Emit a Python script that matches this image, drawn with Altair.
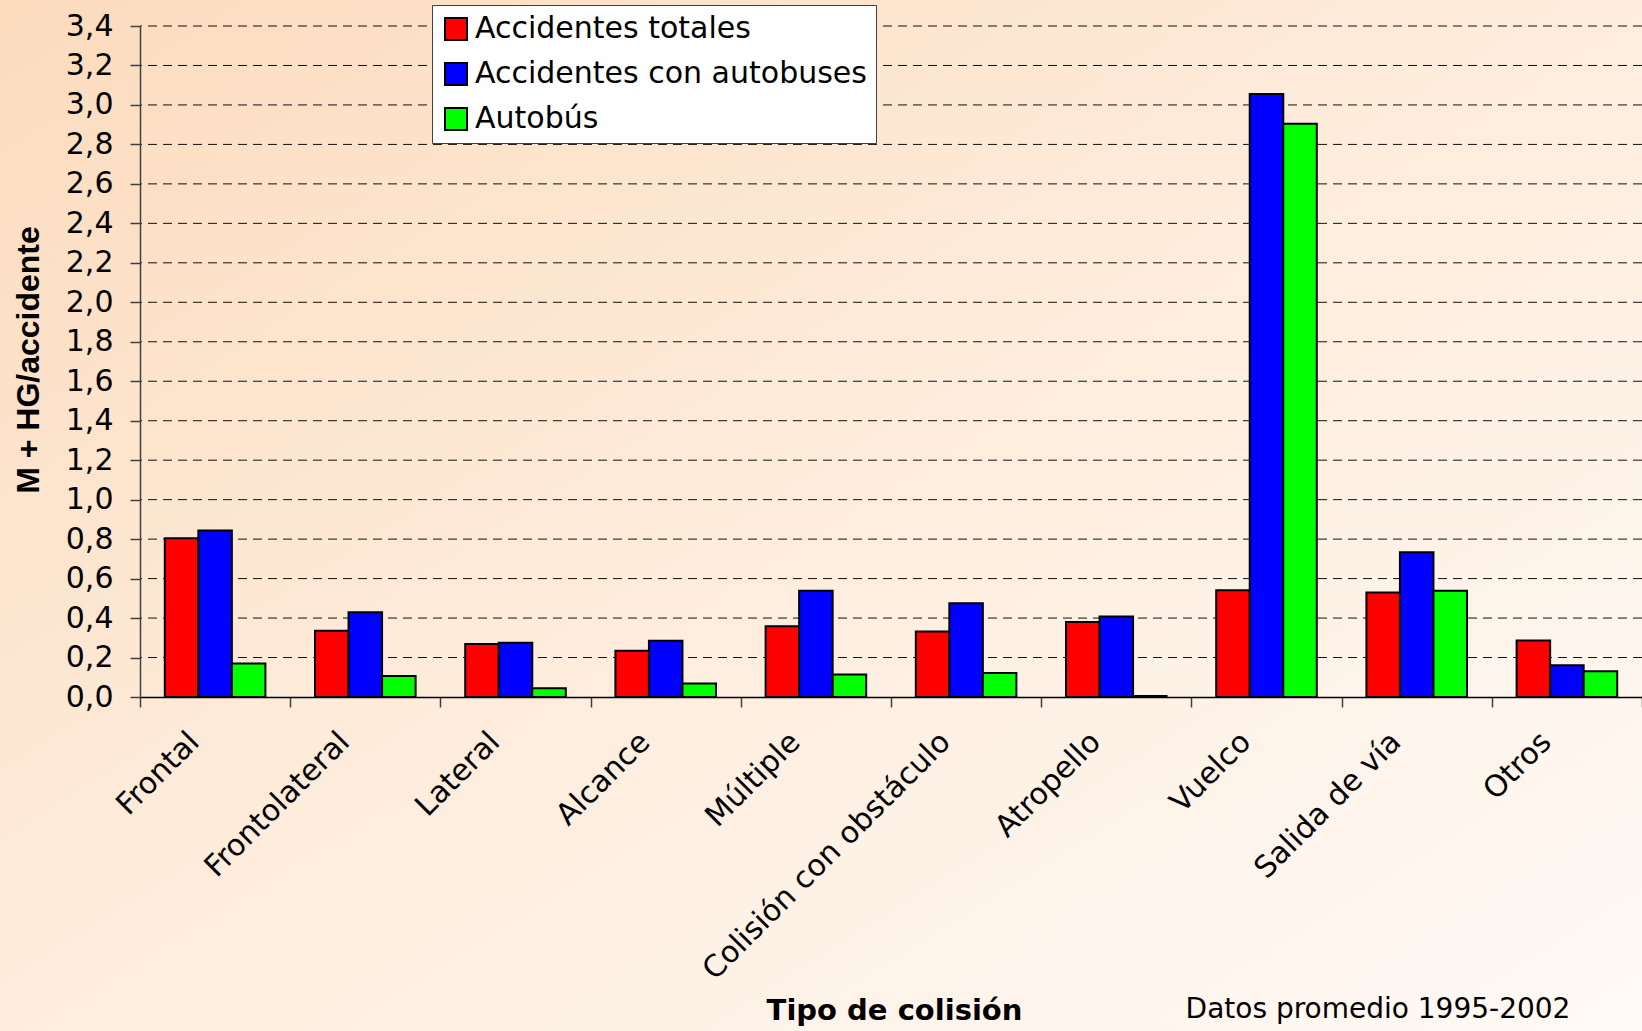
import altair as alt
import pandas as pd

categories = ["Frontal", "Frontolateral", "Lateral", "Alcance", "Múltiple",
              "Colisión con obstáculo", "Atropello", "Vuelco", "Salida de vía", "Otros"]
series_names = ["Accidentes totales", "Accidentes con autobuses", "Autobús"]
series_colors = ["#FF0000", "#0000FF", "#00FF00"]

totales = [0.805, 0.336, 0.268, 0.234, 0.358, 0.332, 0.380, 0.541, 0.530, 0.286]
con_autobuses = [0.844, 0.429, 0.275, 0.285, 0.539, 0.475, 0.408, 3.055, 0.734, 0.161]
autobus = [0.170, 0.107, 0.044, 0.068, 0.114, 0.122, 0.005, 2.905, 0.539, 0.131]

y_ticks = [0.0, 0.2, 0.4, 0.6, 0.8, 1.0, 1.2, 1.4, 1.6, 1.8, 2.0,
           2.2, 2.4, 2.6, 2.8, 3.0, 3.2, 3.4]

y_title = "M + HG/accidente"
x_title = "Tipo de colisión"
note_text = "Datos promedio 1995-2002"

rows = []
for name, vals in zip(series_names, [totales, con_autobuses, autobus]):
    for c, v in zip(categories, vals):
        rows.append({"categoria": c, "serie": name, "value": v})
df = pd.DataFrame(rows)

W, H = 1502, 671
PAD_L, PAD_T = 140, 26
CANVAS_W, CANVAS_H = 1642, 1031

FONT = "DejaVu Sans"

y_scale = alt.Scale(domain=[0, 3.4], nice=False, zero=True)
y_axis = alt.Axis(
    values=y_ticks,
    labelExpr="replace(format(datum.value, '.1f'), '.', ',')",
    grid=False,
    domainColor="#404040", domainWidth=1.5,
    tickColor="#404040", tickWidth=1.5, tickSize=10,
    labelFont=FONT, labelFontSize=30, labelColor="black", labelPadding=17,
    title=y_title, titleFont="Liberation Sans", titleFontSize=32, titleFontWeight="bold",
    titleColor="black", titleAngle=270, titleX=-112, titleY=H / 2 - 2,
    titleAlign="center", titleBaseline="middle",
    zindex=1,
)

x_axis = alt.Axis(
    labelAngle=315, labelAlign="right", labelBaseline="middle",
    labelFont=FONT, labelFontSize=30, labelColor="black",
    labelPadding=30, labelOffset=-21,
    tickBand="extent", tickSize=10, tickColor="#404040", tickWidth=1.5,
    domainColor="black", domainWidth=1.5, grid=False,
    title=x_title, titleFont=FONT, titleFontSize=29, titleFontWeight="bold",
    titleColor="black", titleX=754, titleY=322, titleAlign="center",
    titleBaseline="alphabetic",
    labelLimit=0, zindex=1,
)

gradient = alt.LinearGradient(
    gradient="linear",
    stops=[alt.GradientStop(offset=0, color="#FCDBBD"),
           alt.GradientStop(offset=0.5, color="#FEEDDD"),
           alt.GradientStop(offset=1, color="#FFFAF6")],
    x1=0, y1=0, x2=1, y2=1,
)

bg = alt.Chart(pd.DataFrame({"a": [0]})).mark_rect(fill=gradient, strokeWidth=0).encode(
    x=alt.value(-PAD_L), x2=alt.value(CANVAS_W - PAD_L),
    y=alt.value(-PAD_T), y2=alt.value(CANVAS_H - PAD_T),
)

grid = alt.Chart(pd.DataFrame({"value": y_ticks[1:]})).mark_rule(
    strokeDash=[9, 6], color="#111", strokeWidth=1
).encode(
    y=alt.Y("value:Q", scale=y_scale, axis=y_axis),
)

bars = alt.Chart(df).mark_bar(stroke="black", strokeWidth=2).encode(
    x=alt.X("categoria:N", sort=categories,
            scale=alt.Scale(paddingInner=0, paddingOuter=0),
            axis=x_axis),
    xOffset=alt.XOffset("serie:N", sort=series_names,
                        scale=alt.Scale(paddingInner=0, paddingOuter=0.74)),
    y=alt.Y("value:Q", scale=y_scale, axis=y_axis),
    color=alt.Color("serie:N", sort=series_names,
                    scale=alt.Scale(domain=series_names, range=series_colors),
                    legend=alt.Legend(
                        title=None, orient="none", legendX=292, legendY=-21,
                        fillColor="white", strokeColor="#404040", padding=9,
                        symbolType="square", symbolSize=484,
                        symbolStrokeColor="black", symbolStrokeWidth=2,
                        labelFont=FONT, labelFontSize=30, labelColor="black",
                        labelOffset=4, rowPadding=15, labelLimit=0,
                    )),
)

note = alt.Chart(pd.DataFrame({"t": [note_text]})).mark_text(
    font=FONT, fontSize=28, align="center", baseline="alphabetic", color="black"
).encode(
    text="t:N",
    x=alt.value(1378 - PAD_L), y=alt.value(1018 - PAD_T),
)

chart = alt.layer(bg, grid, bars, note).properties(
    width=W, height=H,
    autosize=alt.AutoSizeParams(type="none"),
    padding={"left": PAD_L, "top": PAD_T, "right": CANVAS_W - PAD_L - W,
             "bottom": CANVAS_H - PAD_T - H},
).configure(background="#FEEDDD").configure_view(stroke=None)

chart.save("out.html", embed_options={"renderer": "svg", "actions": False})
